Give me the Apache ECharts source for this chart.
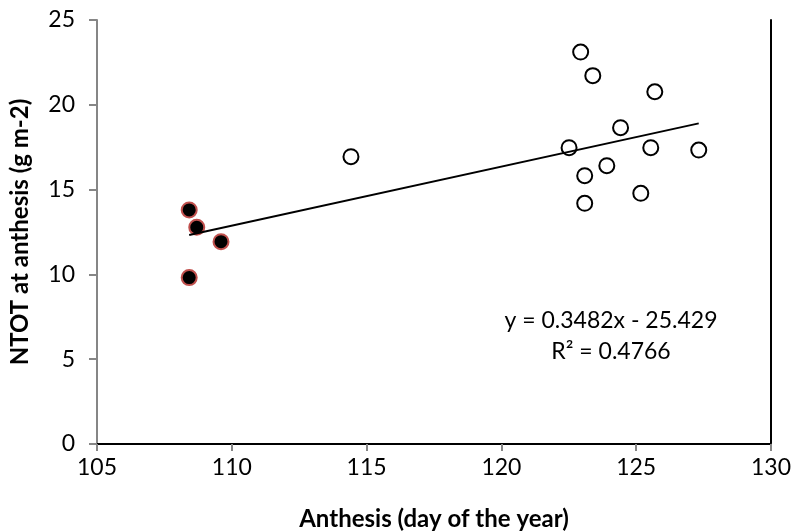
<!DOCTYPE html>
<html>
<head>
<meta charset="utf-8">
<script src="https://cdn.jsdelivr.net/npm/echarts@6/dist/echarts.min.js"></script>
<style>html,body{margin:0;padding:0;background:#fff}#c{width:795px;height:531px}</style>
</head>
<body>
<div id="c"></div>
<script>
// Early anthesis group (filled markers)
const earlyX = [108.42, 108.70, 109.60, 108.42];
const earlyY = [13.80, 12.78, 11.93, 9.81];
// Later anthesis group (open markers)
const lateX = [114.42, 122.94, 123.39, 125.69, 124.42, 122.51, 125.54, 127.32, 123.91, 123.09, 125.17, 123.09];
const lateY = [16.94, 23.11, 21.72, 20.77, 18.65, 17.47, 17.47, 17.33, 16.41, 15.82, 14.78, 14.19];
// Linear trend line stated on the chart
const slope = 0.3482;
const intercept = -25.429;
const r2 = 0.4766;
const xTicks = [105, 110, 115, 120, 125, 130];
const yTicks = [0, 5, 10, 15, 20, 25];

const allX = earlyX.concat(lateX);
const xMinData = Math.min(...allX), xMaxData = Math.max(...allX);
const trend = [[xMinData, slope * xMinData + intercept], [xMaxData, slope * xMaxData + intercept]];

const FONT = 'Lato';
const chart = echarts.init(document.getElementById('c'), null, {renderer: 'canvas'});
chart.setOption({
  animation: false,
  backgroundColor: '#fff',
  textStyle: {fontFamily: FONT},
  grid: {left: 97, top: 20, right: 24, bottom: 87, containLabel: false, outerBoundsMode: 'none'},
  xAxis: [{
    type: 'value', min: xTicks[0], max: xTicks[xTicks.length - 1], interval: 5,
    axisLine: {lineStyle: {color: '#868686', width: 2}},
    axisTick: {show: true, length: 7, lineStyle: {color: '#868686', width: 2}},
    axisLabel: {color: '#000', fontSize: 23, fontFamily: FONT, margin: 12},
    splitLine: {show: false},
    name: 'Anthesis (day of the year)', nameLocation: 'middle', nameGap: 63,
    nameTextStyle: {color: '#000', fontSize: 24, fontWeight: 'bold', fontFamily: FONT}
  }, {
    type: 'value', position: 'top', min: xTicks[0], max: xTicks[xTicks.length - 1],
    axisLine: {show: true, lineStyle: {color: '#000', width: 2}},
    axisTick: {show: false}, axisLabel: {show: false}, splitLine: {show: false}
  }],
  yAxis: [{
    type: 'value', min: yTicks[0], max: yTicks[yTicks.length - 1], interval: 5,
    axisLine: {show: true, lineStyle: {color: '#868686', width: 2}},
    axisTick: {show: true, length: 8, lineStyle: {color: '#868686', width: 2}},
    axisLabel: {color: '#000', fontSize: 23, fontFamily: FONT, margin: 22},
    splitLine: {show: false},
    name: 'NTOT at anthesis (g m-2)', nameLocation: 'middle', nameGap: 65,
    nameTextStyle: {color: '#000', fontSize: 24, fontWeight: 'bold', fontFamily: FONT}
  }, {
    type: 'value', position: 'right', min: yTicks[0], max: yTicks[yTicks.length - 1],
    axisLine: {show: true, lineStyle: {color: '#000', width: 2}},
    axisTick: {show: false}, axisLabel: {show: false}, splitLine: {show: false}
  }],
  series: [{
    type: 'scatter', name: 'early',
    data: earlyX.map((x, i) => [x, earlyY[i]]),
    symbol: 'circle', symbolSize: 15,
    itemStyle: {color: '#000', borderColor: '#c0504d', borderWidth: 2, opacity: 1},
    z: 3
  }, {
    type: 'scatter', name: 'late',
    data: lateX.map((x, i) => [x, lateY[i]]),
    symbol: 'circle', symbolSize: 15,
    itemStyle: {color: '#fff', borderColor: '#000', borderWidth: 2, opacity: 1},
    z: 3
  }, {
    type: 'line', name: 'trend', data: trend, showSymbol: false, symbol: 'none',
    lineStyle: {color: '#000', width: 2}, z: 4, silent: true
  }],
  graphic: [{
    type: 'text', x: 611, y: 336,
    style: {text: 'y = ' + slope + 'x - ' + Math.abs(intercept) + '\nR² = ' + r2,
      fontFamily: FONT, fontSize: 23, fill: '#000', align: 'center', verticalAlign: 'middle', lineHeight: 31}
  }]
});
</script>
</body>
</html>
